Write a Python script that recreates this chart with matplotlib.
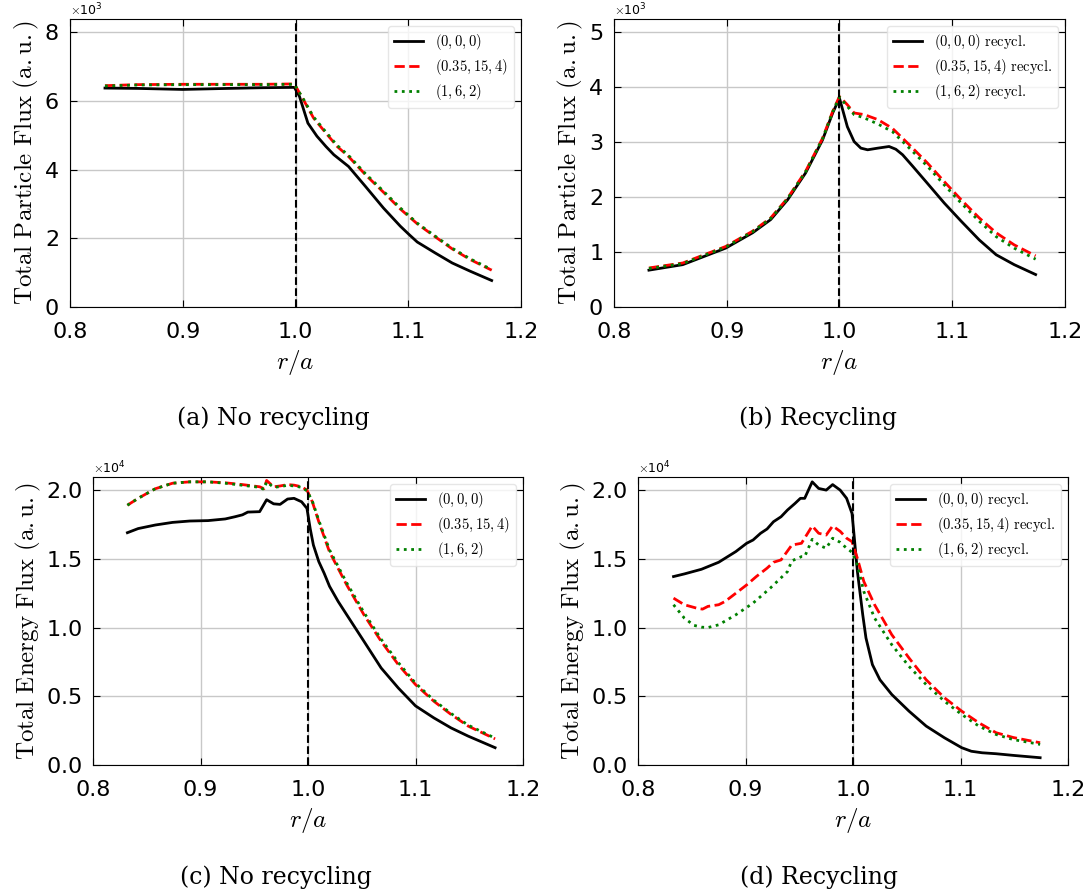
import numpy as np
import matplotlib
matplotlib.use('Agg')
from matplotlib import pyplot as plt

plt.rcParams['mathtext.fontset'] = 'cm'
plt.rcParams['font.family'] = ['DejaVu Sans']

# (a) no recycling, particle flux (x1e3)
ra_black = [0.831, 0.86, 0.90, 0.94, 0.97, 0.999, 1.0035, 1.011, 1.019, 1.027, 1.034, 1.047, 1.062,
            1.078, 1.093, 1.101, 1.108, 1.124, 1.139, 1.155, 1.174]
a_black = [6.37, 6.36, 6.33, 6.36, 6.38, 6.39, 6.13, 5.35, 4.97, 4.67, 4.43, 4.09, 3.51,
           2.88, 2.35, 2.10, 1.89, 1.57, 1.28, 1.04, 0.77]
ra_other = [0.831, 0.86, 0.90, 0.94, 0.97, 0.999, 1.007, 1.016, 1.027, 1.037, 1.047, 1.062, 1.078,
            1.093, 1.108, 1.124, 1.139, 1.155, 1.174]
a_red = [6.44, 6.47, 6.48, 6.48, 6.48, 6.49, 6.03, 5.50, 5.06, 4.67, 4.38, 3.85, 3.34,
         2.85, 2.42, 2.04, 1.69, 1.38, 1.07]
a_green = [6.43, 6.46, 6.47, 6.47, 6.47, 6.48, 6.05, 5.53, 5.09, 4.70, 4.41, 3.88, 3.37,
           2.88, 2.44, 2.06, 1.71, 1.40, 1.09]

# (b) recycling, particle flux (x1e3)
rb_black = [0.831, 0.861, 0.899, 0.923, 0.939, 0.954, 0.970, 0.985, 0.994, 1.0, 1.007, 1.013, 1.019,
            1.025, 1.034, 1.044, 1.050, 1.056, 1.065, 1.078, 1.093, 1.108, 1.124, 1.139, 1.155, 1.174]
b_black = [0.67, 0.77, 1.07, 1.35, 1.59, 1.95, 2.44, 3.04, 3.53, 3.80, 3.28, 3.01, 2.89,
           2.86, 2.89, 2.92, 2.87, 2.77, 2.56, 2.25, 1.89, 1.56, 1.22, 0.95, 0.77, 0.59]
rb_other = [0.831, 0.861, 0.899, 0.923, 0.939, 0.954, 0.970, 0.985, 0.994, 1.0, 1.007, 1.013, 1.022,
            1.034, 1.047, 1.062, 1.078, 1.093, 1.108, 1.124, 1.139, 1.155, 1.174]
b_red = [0.71, 0.80, 1.10, 1.38, 1.62, 1.98, 2.47, 3.07, 3.56, 3.83, 3.68, 3.53, 3.50,
         3.41, 3.25, 2.95, 2.62, 2.28, 1.95, 1.62, 1.35, 1.13, 0.93]
b_green = [0.70, 0.79, 1.09, 1.37, 1.61, 1.97, 2.46, 3.06, 3.55, 3.82, 3.65, 3.50, 3.44,
           3.33, 3.19, 2.89, 2.56, 2.22, 1.89, 1.56, 1.28, 1.07, 0.87]

# (c) no recycling, energy flux (x1e4)
rc_black = [0.832, 0.842, 0.858, 0.874, 0.890, 0.907, 0.923, 0.932, 0.939, 0.944, 0.955, 0.9615,
            0.968, 0.974, 0.981, 0.987, 0.994, 0.999, 1.002, 1.005, 1.010, 1.015, 1.020, 1.028,
            1.036, 1.052, 1.068, 1.084, 1.100, 1.117, 1.133, 1.149, 1.174]
c_black = [1.69, 1.72, 1.746, 1.765, 1.775, 1.778, 1.79, 1.806, 1.82, 1.84, 1.843, 1.93,
           1.90, 1.896, 1.935, 1.94, 1.915, 1.867, 1.72, 1.60, 1.48, 1.395, 1.30, 1.19,
           1.093, 0.90, 0.706, 0.56, 0.43, 0.343, 0.27, 0.21, 0.126]
rc_other = [0.832, 0.842, 0.858, 0.874, 0.890, 0.907, 0.923, 0.939, 0.955, 0.959, 0.9615, 0.968,
            0.974, 0.981, 0.987, 0.994, 0.999, 1.004, 1.010, 1.020, 1.036, 1.052, 1.068, 1.084,
            1.100, 1.117, 1.133, 1.149, 1.174]
c_red = [1.89, 1.94, 2.01, 2.05, 2.06, 2.06, 2.053, 2.04, 2.024, 2.01, 2.07, 2.024,
         2.03, 2.04, 2.036, 2.024, 2.00, 1.915, 1.77, 1.55, 1.31, 1.093, 0.90, 0.73,
         0.585, 0.464, 0.368, 0.283, 0.19]
c_green = [1.89, 1.94, 2.01, 2.05, 2.06, 2.06, 2.05, 2.035, 2.02, 2.005, 2.06, 2.02,
           2.025, 2.035, 2.03, 2.02, 1.995, 1.92, 1.78, 1.565, 1.325, 1.11, 0.915, 0.745,
           0.595, 0.472, 0.375, 0.29, 0.195]

# (d) recycling, energy flux (x1e4)
rd_black = [0.833, 0.843, 0.859, 0.875, 0.891, 0.901, 0.907, 0.914, 0.920, 0.926, 0.933, 0.939,
            0.946, 0.951, 0.955, 0.962, 0.968, 0.975, 0.981, 0.988, 0.994, 0.999, 1.0006, 1.004,
            1.009, 1.012, 1.018, 1.025, 1.036, 1.052, 1.068, 1.085, 1.101, 1.110, 1.120, 1.133,
            1.149, 1.174]
d_black = [1.371, 1.39, 1.424, 1.475, 1.553, 1.613, 1.637, 1.686, 1.717, 1.77, 1.806, 1.855,
           1.903, 1.94, 1.94, 2.06, 2.012, 2.00, 2.04, 2.00, 1.94, 1.83, 1.70, 1.41,
           1.093, 0.924, 0.73, 0.62, 0.513, 0.392, 0.283, 0.198, 0.126, 0.10, 0.089, 0.082,
           0.070, 0.053]
rd_red = [0.833, 0.843, 0.855, 0.860, 0.865, 0.875, 0.881, 0.891, 0.901, 0.910, 0.920, 0.926,
          0.933, 0.943, 0.952, 0.962, 0.968, 0.975, 0.981, 0.988, 0.994, 0.999, 1.004, 1.010,
          1.020, 1.036, 1.052, 1.068, 1.085, 1.101, 1.117, 1.133, 1.149, 1.174]
d_red = [1.214, 1.166, 1.14, 1.134, 1.154, 1.166, 1.19, 1.25, 1.31, 1.371, 1.432, 1.475,
         1.492, 1.60, 1.613, 1.739, 1.686, 1.673, 1.739, 1.70, 1.65, 1.625, 1.504, 1.335,
         1.166, 0.948, 0.779, 0.62, 0.489, 0.392, 0.307, 0.235, 0.20, 0.162]
rd_green = [0.833, 0.843, 0.852, 0.859, 0.865, 0.875, 0.891, 0.907, 0.923, 0.939, 0.943, 0.952,
            0.955, 0.962, 0.968, 0.975, 0.981, 0.988, 0.994, 0.999, 1.004, 1.010, 1.020, 1.036,
            1.052, 1.068, 1.085, 1.101, 1.117, 1.133, 1.149, 1.174]
d_green = [1.166, 1.069, 1.016, 1.003, 1.0, 1.02, 1.093, 1.178, 1.287, 1.407, 1.485, 1.516,
           1.516, 1.642, 1.60, 1.577, 1.65, 1.62, 1.577, 1.548, 1.456, 1.262, 1.069, 0.875,
           0.718, 0.585, 0.464, 0.368, 0.283, 0.222, 0.185, 0.15]

labels = [r'$(0,0,0)$', r'$(0.35,15,4)$', r'$(1,6,2)$']
captions = ['(a) No recycling', '(b) Recycling', '(c) No recycling', '(d) Recycling']


def draw_panel(ax, series, ylabel, exp, ymax, yticks, suffix):
    scale = 10 ** exp
    styles = [('black', '-'), ('red', '--'), ('green', ':')]
    for (r, v), (c, ls), lab in zip(series, styles, labels):
        ax.plot(r, np.array(v) * scale, color=c, linestyle=ls, linewidth=2, label=lab + suffix)
    ax.axvline(1.0, color='black', linestyle='--', linewidth=1.5)
    ax.set_xlim(0.8, 1.2)
    ax.set_ylim(0, ymax * scale)
    ax.set_xticks([0.8, 0.9, 1.0, 1.1, 1.2])
    ax.set_yticks(np.array(yticks) * scale)
    ax.ticklabel_format(axis='y', style='sci', scilimits=(exp, exp), useMathText=True)
    ax.yaxis.get_offset_text().set_fontsize(9)
    ax.tick_params(direction='in', top=True, right=True, labelsize=16, length=5, pad=8)
    ax.tick_params(axis='x', pad=11)
    ax.grid(True, color='#c8c8c8', linewidth=1)
    ax.set_axisbelow(True)
    ax.set_xlabel(r'$r/a$', fontsize=18, labelpad=4)
    ax.set_ylabel(ylabel, fontsize=18, labelpad=2)
    ax.legend(loc='upper right', fontsize=10.5, labelspacing=0.35, edgecolor='#e0e0e0')


fig = plt.figure(figsize=(10.89, 8.96), dpi=100)
ax_a = fig.add_axes([0.0643, 0.6574, 0.4141, 0.3214])
ax_b = fig.add_axes([0.5638, 0.6574, 0.4141, 0.3214])
ax_c = fig.add_axes([0.0854, 0.1462, 0.3949, 0.3214])
ax_d = fig.add_axes([0.5859, 0.1462, 0.3949, 0.3214])

part_lab = r'$\mathrm{Total\ Particle\ Flux\ (a.u.)}$'
energy_lab = r'$\mathrm{Total\ Energy\ Flux\ (a.u.)}$'
rec = r'$\ \mathrm{recycl.}$'

draw_panel(ax_a, [(ra_black, a_black), (ra_other, a_red), (ra_other, a_green)],
           part_lab, 3, 8.38, [0, 2, 4, 6, 8], '')
draw_panel(ax_b, [(rb_black, b_black), (rb_other, b_red), (rb_other, b_green)],
           part_lab, 3, 5.24, [0, 1, 2, 3, 4, 5], rec)
draw_panel(ax_c, [(rc_black, c_black), (rc_other, c_red), (rc_other, c_green)],
           energy_lab, 4, 2.095, [0, 0.5, 1.0, 1.5, 2.0], '')
draw_panel(ax_d, [(rd_black, d_black), (rd_red, d_red), (rd_green, d_green)],
           energy_lab, 4, 2.095, [0, 0.5, 1.0, 1.5, 2.0], rec)

# sub-captions
for (x, y), cap in zip([(0.251, 0.533), (0.751, 0.533), (0.253, 0.021), (0.752, 0.021)], captions):
    fig.text(x, y, cap, ha='center', va='center', fontsize=17, family='DejaVu Serif')

fig.savefig('out.png', dpi=100)
